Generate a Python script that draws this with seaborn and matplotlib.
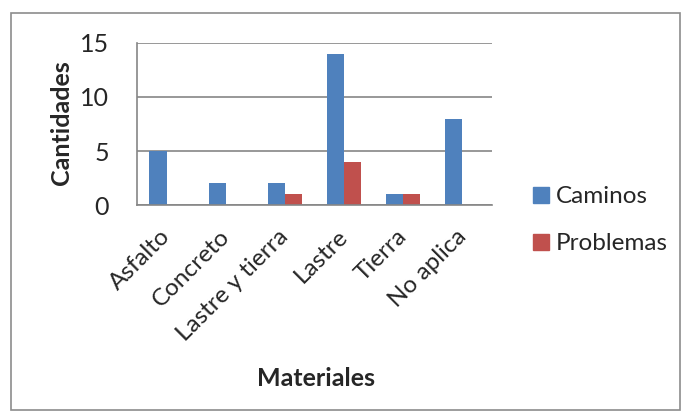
import matplotlib
matplotlib.use("Agg")
import matplotlib.pyplot as plt
import matplotlib.transforms as mtransforms
import seaborn as sns
import pandas as pd
from matplotlib.patches import Rectangle
from matplotlib.lines import Line2D

materiales = ["Asfalto", "Concreto", "Lastre y tierra", "Lastre", "Tierra", "No aplica"]
caminos = [5, 2, 2, 14, 1, 8]
problemas = [0, 0, 1, 4, 1, 0]
series = ["Caminos", "Problemas"]
colores = ["#4F81BD", "#C0504D"]
yticks = [0, 5, 10, 15]

sns.set_style("white")
plt.rcParams["font.family"] = ["Lato", "DejaVu Sans"]

df = pd.DataFrame({
    "Material": materiales * 2,
    "Serie": [series[0]] * len(materiales) + [series[1]] * len(materiales),
    "Cantidad": caminos + problemas,
})

fig = plt.figure(figsize=(6.86, 4.19), dpi=100)
fig.patches.append(Rectangle((11 / 686, 1 - 410 / 419), 669 / 686, 397 / 419,
                             transform=fig.transFigure, fill=False,
                             edgecolor="#8C8C8C", linewidth=1.2))
ax = fig.add_axes([137 / 686, 1 - 205 / 419, 355 / 686, 162 / 419])

sns.barplot(data=df, x="Material", y="Cantidad", hue="Serie", order=materiales,
            hue_order=series, palette=colores, width=0.58, saturation=1,
            ax=ax, legend=False, edgecolor="none")

ax.set_ylim(0, 15)
ax.set_xlim(-0.5, len(materiales) - 0.5)
ax.set_yticks(yticks)
ax.yaxis.grid(True, color="#868686", linewidth=1.2)
ax.set_axisbelow(True)
for s in ["top", "right"]:
    ax.spines[s].set_visible(False)
for s in ["left", "bottom"]:
    ax.spines[s].set_color("#868686")
    ax.spines[s].set_linewidth(1.2)

ax.tick_params(axis="y", labelsize=18, length=8, color="#868686", width=1.2, pad=12)
ax.set_xticks(range(len(materiales)))
ax.set_xticklabels(materiales, rotation=45, ha="right", rotation_mode="anchor", fontsize=17.5)
ax.tick_params(axis="x", length=0, pad=15)
shift = mtransforms.ScaledTranslation(-7 / 100, 0, fig.dpi_scale_trans)
for lbl in ax.get_xticklabels():
    lbl.set_transform(lbl.get_transform() + shift)
# category boundary ticks
ax.set_xticks([i - 0.5 for i in range(len(materiales) + 1)], minor=True)
ax.tick_params(axis="x", which="minor", length=7, color="#868686", width=1.2)

ax.set_xlabel("")
ax.set_ylabel("")
fig.text(62 / 686, 1 - 123 / 419, "Cantidades", rotation=90, fontsize=18,
         fontweight="bold", ha="center", va="center")
fig.text(316 / 686, 1 - 378 / 419, "Materiales", fontsize=18,
         fontweight="bold", ha="center", va="center")

handles = [Line2D([], [], marker="s", linestyle="", markersize=11, color=c) for c in colores]
fig.legend(handles, series, loc="center left", bbox_to_anchor=(524 / 686, 1 - 220 / 419),
           frameon=False, fontsize=17.5, handlelength=0.6, handleheight=0.6,
           handletextpad=0.32, labelspacing=1.05, borderaxespad=0, borderpad=0.4)

fig.savefig("out.png", dpi=100)
